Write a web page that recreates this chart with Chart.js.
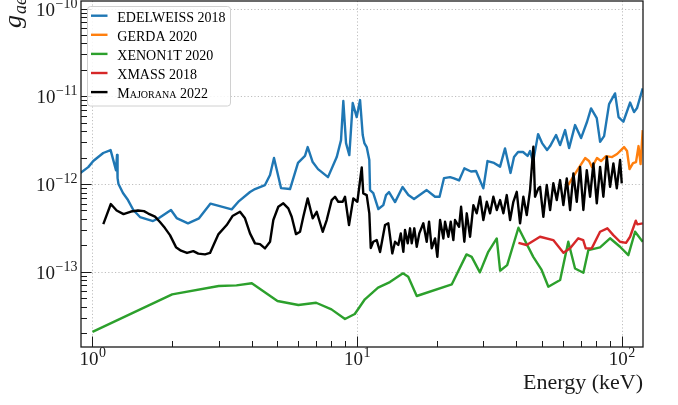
<!DOCTYPE html>
<html>
<head>
<meta charset="utf-8">
<script src="https://cdn.jsdelivr.net/npm/chart.js@4.4.1/dist/chart.umd.min.js"></script>
<style>
  html, body { margin: 0; padding: 0; background: #ffffff; }
  #wrap { width: 678px; height: 405px; position: relative; }
</style>
</head>
<body>
<div id="wrap"><canvas id="chart"></canvas></div>
<script>
// ---- Data: energy (keV) and coupling limit g_ae for each experiment ----
const edelweissE = [0.90,0.964,1.007,1.098,1.171,1.227,1.238,1.244,1.254,1.304,1.362,1.427,1.512,1.693,1.784,1.98,2.08,2.296,2.527,2.793,3.358,3.579,3.938,4.113,4.486,4.687,4.852,5.158,5.578,5.979,6.353,6.505,6.794,7.116,7.762,8.375,8.693,8.869,9.08,9.344,9.625,9.965,10.26,10.5,10.65,10.87,11.12,11.19,11.51,12.03,12.56,12.86,13.2,13.91,14.85,15.62,16.41,18.32,19.7,20.49,21.3,22.45,23.24,24.28,25.42,26.94,28.14,29.99,31.1,32.91,34.69,36.22,37.99,39.17,40.57,42.36,44.06,45.03,46.23,48.28,49.99,52.21,53.61,56.46,58.47,61.07,63.24,66.61,70.18,73.94,76.56,80.45,82.83,85.76,89.55,94.34,97.26,101.4,107.5,111.3,114.2,120];
const edelweissG = [1.34e-12,1.56e-12,1.83e-12,2.26e-12,2.44e-12,1.44e-12,2.14e-12,1.17e-12,1.0e-12,7.9e-13,6.57e-13,5.06e-13,4.21e-13,3.79e-13,4.10e-13,5.06e-13,4.10e-13,3.57e-13,4.07e-13,5.99e-13,5.15e-13,6.40e-13,8.11e-13,8.77e-13,9.74e-13,1.27e-12,1.98e-12,9.0e-13,8.77e-13,1.74e-12,2.09e-12,2.64e-12,1.78e-12,1.48e-12,1.20e-12,2.03e-12,3.17e-12,8.83e-12,2.93e-12,2.14e-12,8.38e-12,5.80e-12,9.06e-12,3.62e-12,2.93e-12,2.64e-12,1.88e-12,8.54e-13,7.9e-13,5.19e-13,5.76e-13,7.49e-13,8.11e-13,6.23e-13,9.24e-13,7.49e-13,6.75e-13,8.54e-13,7.17e-13,7.17e-13,1.17e-12,1.20e-12,1.16e-12,1.10e-12,1.51e-12,1.39e-12,1.41e-12,8.93e-13,1.83e-12,1.74e-12,1.58e-12,2.55e-12,1.34e-12,2.03e-12,2.32e-12,2.32e-12,2.09e-12,2.38e-12,1.78e-12,3.71e-12,2.93e-12,2.44e-12,2.71e-12,3.62e-12,2.78e-12,4.13e-12,2.57e-12,4.70e-12,3.34e-12,5.13e-12,7.29e-12,5.65e-12,3.03e-12,3.52e-12,8.16e-12,1.08e-11,5.80e-12,5.13e-12,8.49e-12,6.61e-12,7.35e-12,1.23e-11];

const gerdaE = [62.7,67.2,72.7,75.2,77.2,80.6,83.5,87.2,91.9,96.0,99.4,102.0,104.7,107.0,110.3,113.2,115.7,117.8,120];
const gerdaG = [9.74e-13,1.37e-12,1.98e-12,1.83e-12,1.56e-12,1.98e-12,1.83e-12,2.08e-12,2.03e-12,2.20e-12,2.44e-12,2.64e-12,2.38e-12,1.48e-12,1.73e-12,1.78e-12,2.71e-12,1.69e-12,4.12e-12];

const xenonE = [1.0,2.0,3.0,3.5,4.0,5.0,6.0,7.0,8.0,9.0,9.8,10.7,12.0,13.3,14.9,15.6,16.8,22.8,25.9,27.1,29.1,31.3,33.7,34.7,36.9,40.7,46.3,49.8,52.8,58.5,62.8,66.6,71.6,74.8,82.8,90.3,98.5,105.9,112.3,120];
const xenonG = [2.07e-14,5.53e-14,6.89e-14,7.0e-14,7.4e-14,4.65e-14,4.18e-14,4.44e-14,3.73e-14,2.90e-14,3.30e-14,4.86e-14,6.6e-14,7.63e-14,9.6e-14,8.78e-14,5.30e-14,7.20e-14,1.58e-13,1.48e-13,9.86e-14,1.69e-13,2.40e-13,1.03e-13,1.19e-13,3.18e-13,1.48e-13,1.05e-13,6.76e-14,8.05e-14,2.20e-13,1.09e-13,9.75e-14,1.77e-13,1.90e-13,2.41e-13,1.93e-13,1.55e-13,2.86e-13,2.20e-13];

const xmassE = [40.7,43.7,49.1,55.1,60.2,63.8,68.5,71.5,73.1,77.0,82.8,88.2,92.9,98.5,103.8,107.5,113,114.5,120];
const xmassG = [2.14e-13,2.02e-13,2.51e-13,2.30e-13,1.65e-13,1.85e-13,2.41e-13,2.30e-13,1.85e-13,1.85e-13,2.86e-13,3.13e-13,2.62e-13,2.20e-13,2.14e-13,2.51e-13,3.82e-13,3.47e-13,3.56e-13];

const majoranaE = [1.099,1.173,1.234,1.310,1.398,1.486,1.565,1.625,1.723,1.799,1.879,1.963,2.068,2.160,2.276,2.404,2.511,2.662,2.781,2.879,2.994,3.215,3.381,3.609,3.770,3.938,4.113,4.296,4.486,4.687,4.824,5.038,5.262,5.495,5.660,5.876,6.085,6.262,6.505,6.794,7.036,7.413,7.676,8.017,8.251,8.490,8.822,9.000,9.319,9.674,10.02,10.19,10.41,10.55,10.87,11.12,11.26,11.51,11.86,12.21,12.75,13.12,13.58,13.91,14.31,14.62,14.95,15.17,15.53,15.85,16.08,16.45,16.80,17.18,17.79,18.32,18.70,19.14,19.70,20.10,20.58,21.18,21.49,22.12,22.58,23.10,23.44,24.28,24.71,25.42,25.96,26.72,27.50,28.31,29.15,29.99,30.90,31.80,32.72,33.71,34.69,35.70,36.77,37.85,38.94,40.11,41.28,42.48,43.75,45.03,46.34,47.03,48.40,49.12,50.55,52.07,53.61,55.13,56.81,58.47,60.17,61.97,63.80,65.64,67.61,69.58,71.60,73.76,75.92,78.12,80.47,82.82,85.21,87.78,90.35,92.97,95.77,98.56,100.0];
const majoranaG = [3.50e-13,5.92e-13,4.99e-13,4.55e-13,4.86e-13,4.99e-13,4.92e-13,4.61e-13,4.26e-13,3.69e-13,3.15e-13,2.62e-13,1.91e-13,1.74e-13,1.64e-13,1.72e-13,1.61e-13,1.58e-13,1.64e-13,2.07e-13,2.69e-13,3.41e-13,4.32e-13,4.83e-13,4.07e-13,2.74e-13,2.11e-13,2.07e-13,1.85e-13,2.20e-13,3.89e-13,5.51e-13,6.03e-13,5.29e-13,4.24e-13,2.69e-13,2.86e-13,4.24e-13,6.87e-13,4.07e-13,4.83e-13,2.86e-13,3.89e-13,6.57e-13,7.17e-13,6.28e-13,6.28e-13,7.17e-13,3.41e-13,6.87e-13,6.28e-13,9.32e-13,1.55e-12,7.83e-13,7.49e-13,4.64e-13,1.87e-13,2.20e-13,2.30e-13,1.68e-13,3.41e-13,3.57e-13,1.62e-13,2.20e-13,2.02e-13,2.74e-13,1.69e-13,2.99e-13,2.11e-13,3.13e-13,2.11e-13,3.13e-13,1.93e-13,2.74e-13,3.57e-13,2.20e-13,3.72e-13,1.85e-13,2.40e-13,1.48e-13,3.89e-13,2.40e-13,3.72e-13,2.51e-13,3.72e-13,2.30e-13,3.89e-13,3.26e-13,5.51e-13,2.20e-13,4.64e-13,2.51e-13,5.76e-13,4.64e-13,7.17e-13,3.89e-13,6.28e-13,4.64e-13,7.17e-13,5.06e-13,6.57e-13,4.64e-13,7.49e-13,3.89e-13,6.28e-13,8.17e-13,3.57e-13,7.17e-13,4.43e-13,8.54e-13,2.66e-12,7.17e-13,8.93e-13,9.32e-13,4.24e-13,9.74e-13,5.06e-13,1.02e-12,6.57e-13,1.11e-12,5.76e-13,1.16e-12,5.06e-13,1.32e-12,6.28e-13,1.57e-12,5.06e-13,1.44e-12,7.17e-13,1.72e-12,6.03e-13,1.57e-12,7.17e-13,2.05e-12,9.32e-13,1.72e-12,8.93e-13,1.88e-12,1.02e-12];

// ---- Axis ranges and tick values ----
const xRange = [0.905, 120.3];
const yRange = [1.39e-14, 1.22e-10];
const xMajorTicks = [1, 10, 100];
const xTickExp = ['0', '1', '2'];
const yMajorTicks = [1e-13, 1e-12, 1e-11, 1e-10];
const yTickExp = ['\u221213', '\u221212', '\u221211', '\u221210'];
const xTitle = 'Energy (keV)';

const SERIF = '"Liberation Serif", "Times New Roman", serif';
const INK = '#1a1a1a';
const LINE_W = 2.4;

function minorTicks(lo, hi) {
  const out = [];
  for (let d = Math.floor(Math.log10(lo)); d <= Math.ceil(Math.log10(hi)); d++) {
    for (let k = 2; k <= 9; k++) {
      const v = k * Math.pow(10, d);
      if (v > lo && v < hi) out.push(v);
    }
  }
  return out;
}

function series(E, G) { return E.map((e, i) => ({ x: e, y: G[i] })); }

function line(ctx, x0, y0, x1, y1) {
  ctx.beginPath(); ctx.moveTo(x0, y0); ctx.lineTo(x1, y1); ctx.stroke();
}

// Draws "10" with a raised exponent; anchor is the horizontal alignment point
function drawPower(ctx, exp, x, baseY, align) {
  const baseFont = '19px ' + SERIF, expFont = '14px ' + SERIF;
  ctx.font = baseFont; const w1 = ctx.measureText('10').width;
  ctx.font = expFont; const w2 = ctx.measureText(exp).width;
  const total = w1 + w2;
  let start = align === 'center' ? x - total / 2 : x - total;
  ctx.textAlign = 'left'; ctx.textBaseline = 'alphabetic';
  ctx.font = baseFont; ctx.fillText('10', start, baseY);
  ctx.font = expFont; ctx.fillText(exp, start + w1 + 0.5, baseY - 8);
}

const axesDecor = {
  id: 'axesDecor',
  beforeDatasetsDraw(chart) {
    const { ctx, chartArea: a, scales: { x, y } } = chart;
    ctx.save();
    ctx.strokeStyle = '#b8b8b8'; ctx.lineWidth = 0.9; ctx.setLineDash([1.2, 2.2]);
    xMajorTicks.forEach(v => { const px = Math.round(x.getPixelForValue(v)) + 0.5; line(ctx, px, a.top, px, a.bottom); });
    yMajorTicks.forEach(v => { const py = Math.round(y.getPixelForValue(v)) + 0.5; line(ctx, a.left, py, a.right, py); });
    ctx.restore();
  },
  afterDatasetsDraw(chart) {
    const { ctx, chartArea: a, scales: { x, y } } = chart;
    ctx.save();
    ctx.strokeStyle = INK; ctx.lineWidth = 1;
    // inward tick marks on bottom and left
    xMajorTicks.forEach(v => { const px = Math.round(x.getPixelForValue(v)) + 0.5; line(ctx, px, a.bottom, px, a.bottom - 10.5); });
    minorTicks(xRange[0], xRange[1]).forEach(v => { const px = Math.round(x.getPixelForValue(v)) + 0.5; line(ctx, px, a.bottom, px, a.bottom - 6); });
    yMajorTicks.forEach(v => { const py = Math.round(y.getPixelForValue(v)) + 0.5; line(ctx, a.left, py, a.left + 10.5, py); });
    minorTicks(yRange[0], yRange[1]).forEach(v => { const py = Math.round(y.getPixelForValue(v)) + 0.5; line(ctx, a.left, py, a.left + 6, py); });
    // frame
    ctx.lineWidth = 1.3;
    ctx.strokeRect(a.left, a.top, a.right - a.left, a.bottom - a.top);
    ctx.restore();
  },
  afterDraw(chart) {
    const { ctx, chartArea: a, scales: { x, y } } = chart;
    ctx.save();
    ctx.fillStyle = INK;
    // tick labels
    xMajorTicks.forEach((v, i) => drawPower(ctx, xTickExp[i], x.getPixelForValue(v), a.bottom + 18, 'center'));
    yMajorTicks.forEach((v, i) => drawPower(ctx, yTickExp[i], a.left - 4, y.getPixelForValue(v) + 7, 'right'));

    // y-axis label g_ae, rotated and anchored at the top
    ctx.save();
    ctx.translate(21, 28);
    ctx.rotate(-Math.PI / 2);
    ctx.textAlign = 'left'; ctx.textBaseline = 'alphabetic';
    ctx.font = 'italic 26px ' + SERIF;
    ctx.fillText('g', 0, 0);
    const gw = ctx.measureText('g').width;
    ctx.font = 'italic 18px ' + SERIF;
    ctx.fillText('ae', gw + 1, 5);
    ctx.restore();

    // legend
    const lx = 87.5, ly = 6.5, lw = 143, lh = 99.5, r = 3;
    ctx.beginPath();
    ctx.moveTo(lx + r, ly); ctx.lineTo(lx + lw - r, ly); ctx.quadraticCurveTo(lx + lw, ly, lx + lw, ly + r);
    ctx.lineTo(lx + lw, ly + lh - r); ctx.quadraticCurveTo(lx + lw, ly + lh, lx + lw - r, ly + lh);
    ctx.lineTo(lx + r, ly + lh); ctx.quadraticCurveTo(lx, ly + lh, lx, ly + lh - r);
    ctx.lineTo(lx, ly + r); ctx.quadraticCurveTo(lx, ly, lx + r, ly);
    ctx.closePath();
    ctx.fillStyle = 'rgba(255,255,255,0.85)'; ctx.fill();
    ctx.strokeStyle = '#d0d0d0'; ctx.lineWidth = 1; ctx.stroke();

    const items = chart.data.datasets.slice().sort((p, q) => p.legendRank - q.legendRank);
    items.forEach((ds, i) => {
      const yy = 15.7 + i * 19.1;
      ctx.strokeStyle = ds.borderColor; ctx.lineWidth = LINE_W;
      line(ctx, 91, yy, 107.5, yy);
      ctx.fillStyle = '#000';
      ctx.textAlign = 'left'; ctx.textBaseline = 'alphabetic';
      if (ds.smallCaps) {
        ctx.font = 'small-caps 14px ' + SERIF;
        try { ctx.fontVariantCaps = 'small-caps'; } catch (e) {}
      } else {
        ctx.font = '14px ' + SERIF;
        try { ctx.fontVariantCaps = 'normal'; } catch (e) {}
      }
      ctx.fillText(ds.label, 117.3, 21.7 + i * 19.1);
    });
    ctx.restore();
  }
};

const common = { fill: false, pointRadius: 0, pointHoverRadius: 0, borderWidth: LINE_W, tension: 0, borderJoinStyle: 'round', borderCapStyle: 'butt' };

new Chart(document.getElementById('chart'), {
  type: 'line',
  data: {
    datasets: [
      { ...common, label: 'EDELWEISS 2018', data: series(edelweissE, edelweissG), borderColor: '#1f77b4', order: 5, legendRank: 0 },
      { ...common, label: 'GERDA 2020', data: series(gerdaE, gerdaG), borderColor: '#ff7f0e', order: 4, legendRank: 1 },
      { ...common, label: 'XENON1T 2020', data: series(xenonE, xenonG), borderColor: '#2ca02c', order: 3, legendRank: 2 },
      { ...common, label: 'XMASS 2018', data: series(xmassE, xmassG), borderColor: '#d62728', order: 2, legendRank: 3 },
      { ...common, label: 'Majorana 2022', data: series(majoranaE, majoranaG), borderColor: '#000000', order: 1, legendRank: 4, smallCaps: true }
    ]
  },
  options: {
    responsive: true,
    maintainAspectRatio: false,
    animation: false,
    events: [],
    layout: { padding: { top: 1, right: 35, left: 0, bottom: 0 }, autoPadding: false },
    plugins: { legend: { display: false }, tooltip: { enabled: false }, title: { display: false } },
    scales: {
      x: {
        type: 'logarithmic', min: xRange[0], max: xRange[1],
        grid: { display: false }, border: { display: false },
        ticks: { display: false },
        title: { display: true, text: xTitle, align: 'end', color: INK, font: { family: SERIF, size: 22 }, padding: { top: 0, bottom: 9 } },
        afterFit(scale) { scale.height = 58; scale.paddingLeft = 0; scale.paddingRight = 0; }
      },
      y: {
        type: 'logarithmic', min: yRange[0], max: yRange[1],
        grid: { display: false }, border: { display: false },
        ticks: { display: false },
        afterFit(scale) { scale.width = 81; scale.paddingTop = 0; scale.paddingBottom = 0; }
      }
    }
  },
  plugins: [axesDecor]
});
</script>
</body>
</html>
